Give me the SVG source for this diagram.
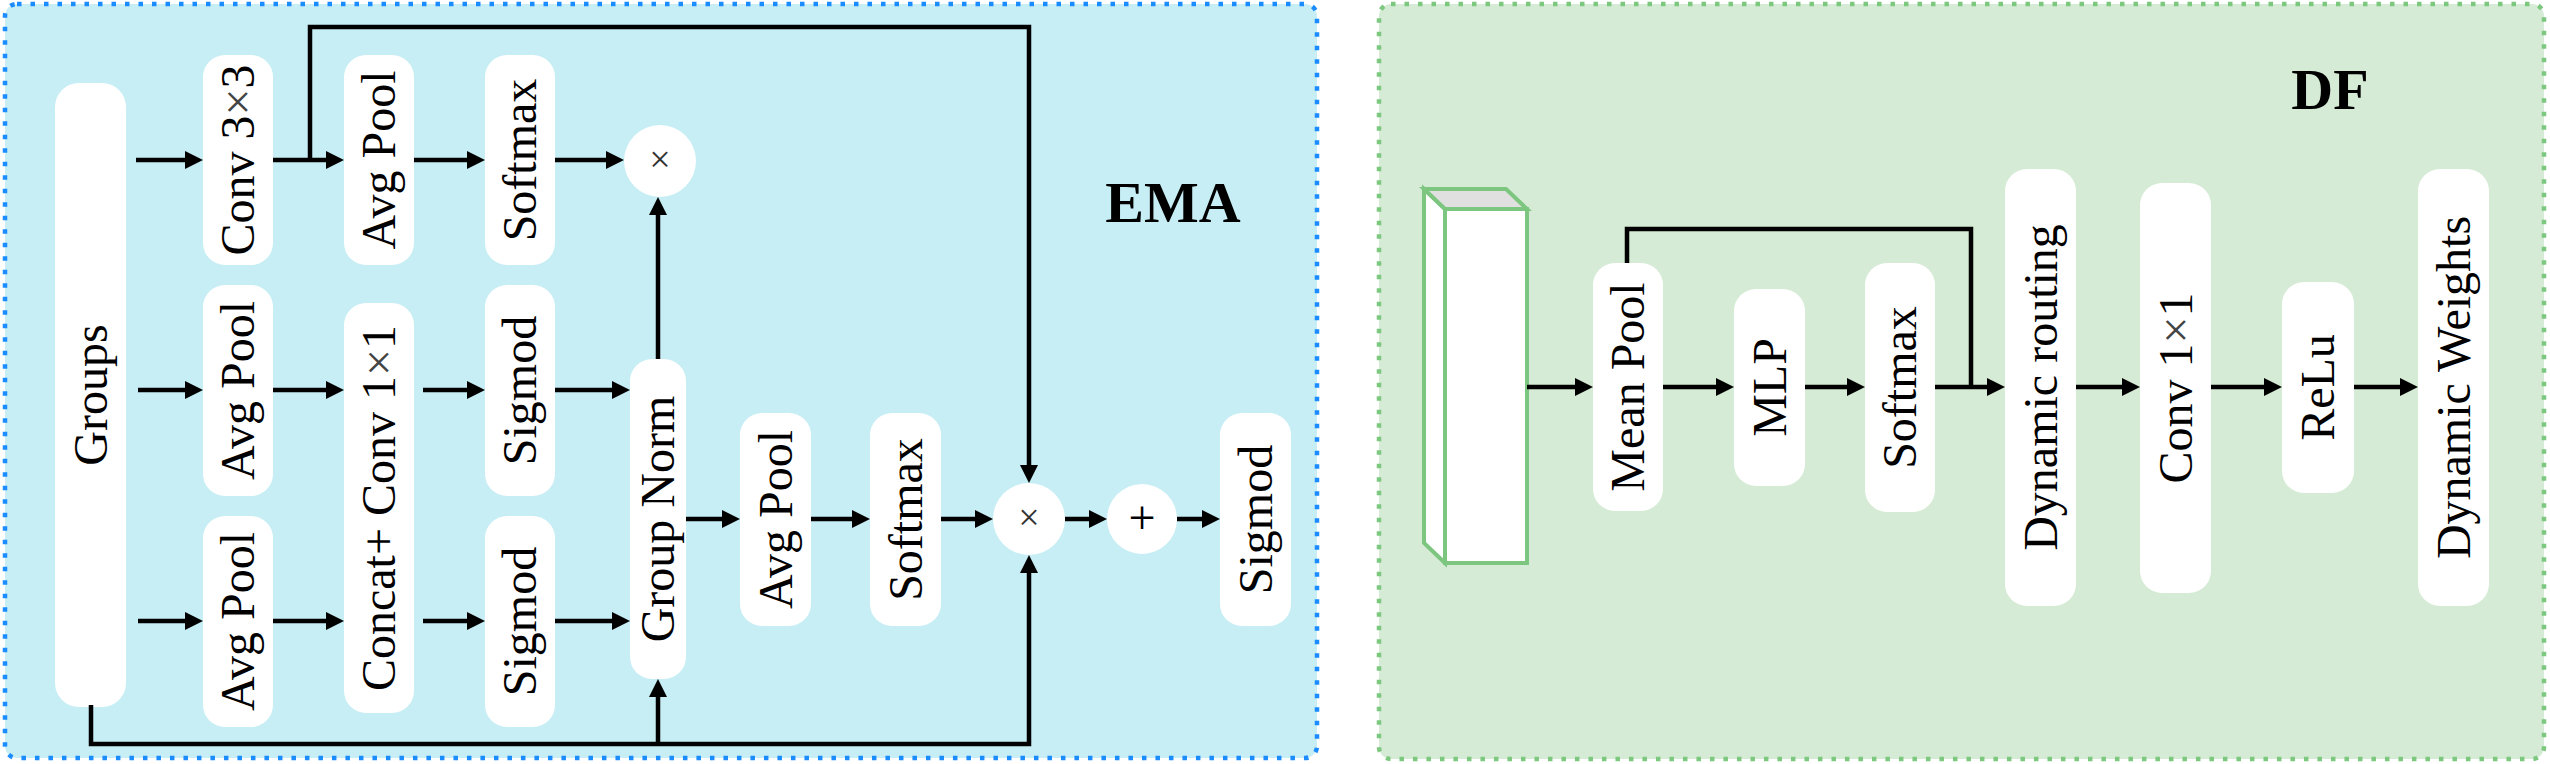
<svg xmlns="http://www.w3.org/2000/svg" width="2550" height="764" viewBox="0 0 2550 764">
<defs>
<marker id="ah" markerUnits="userSpaceOnUse" markerWidth="18" markerHeight="18" refX="8" refY="9" orient="auto">
<path d="M0,0 L18,9 L0,18 z" fill="#000"/>
</marker>
<style>
.panel-ema{fill:#c6eef4;stroke:#1a8cff;stroke-width:4.5;stroke-dasharray:4.5 9}
.panel-df{fill:#d5ebd5;stroke:#7dc87f;stroke-width:4.5;stroke-dasharray:4.5 9}
.box{fill:#fff;stroke:none}
.lbl{font-family:"Liberation Serif","Times New Roman",serif;font-size:48px;fill:#000;text-anchor:middle}
.op{font-family:"Liberation Serif","Times New Roman",serif;fill:#333;text-anchor:middle}
.title{font-family:"Liberation Serif","Times New Roman",serif;font-size:58px;font-weight:bold;fill:#000;text-anchor:middle}
.x{fill:#444}
.conn path{fill:none;stroke:#000;stroke-width:4.5}
.arr{marker-end:url(#ah)}
.cube{stroke:#7dc67f;stroke-width:4;stroke-linejoin:miter}
</style>
</defs>

<rect class="panel-ema" x="5" y="4" width="1312" height="754" rx="12"/>
<rect class="panel-df" x="1379" y="4" width="1165" height="755" rx="12"/>

<g id="ema-title"><text class="title" x="1173" y="222">EMA</text></g>
<g id="df-title"><text class="title" x="2330" y="109">DF</text></g>

<!-- EMA nodes -->
<g id="groups"><rect class="box" x="55" y="83" width="71" height="624" rx="24"/><text class="lbl" transform="translate(90.5,395) rotate(-90)" dy="16">Groups</text></g>
<g id="conv33"><rect class="box" x="203" y="55" width="70" height="210" rx="22"/><text class="lbl" transform="translate(238,160) rotate(-90)" dy="16">Conv 3<tspan class="x">×</tspan>3</text></g>
<g id="avgpool1"><rect class="box" x="344" y="55" width="70" height="210" rx="22"/><text class="lbl" transform="translate(379,160) rotate(-90)" dy="16">Avg Pool</text></g>
<g id="softmax1"><rect class="box" x="485" y="55" width="70" height="210" rx="22"/><text class="lbl" transform="translate(520,160) rotate(-90)" dy="16">Softmax</text></g>
<g id="mul1"><circle class="box" cx="660" cy="161" r="36"/><text class="op" x="660" y="172" font-size="38">×</text></g>
<g id="avgpool2"><rect class="box" x="203" y="285" width="70" height="211" rx="22"/><text class="lbl" transform="translate(238,390.5) rotate(-90)" dy="16">Avg Pool</text></g>
<g id="concat"><rect class="box" x="344" y="303" width="70" height="410" rx="22"/><text class="lbl" transform="translate(379,508) rotate(-90)" dy="16">Concat+ Conv 1<tspan class="x">×</tspan>1</text></g>
<g id="sigmod2"><rect class="box" x="485" y="285" width="70" height="211" rx="22"/><text class="lbl" transform="translate(520,390.5) rotate(-90)" dy="16">Sigmod</text></g>
<g id="avgpool3"><rect class="box" x="203" y="516" width="70" height="211" rx="22"/><text class="lbl" transform="translate(238,621.5) rotate(-90)" dy="16">Avg Pool</text></g>
<g id="sigmod3"><rect class="box" x="485" y="516" width="70" height="211" rx="22"/><text class="lbl" transform="translate(520,621.5) rotate(-90)" dy="16">Sigmod</text></g>
<g id="groupnorm"><rect class="box" x="630" y="359" width="56" height="320" rx="22"/><text class="lbl" transform="translate(658,519) rotate(-90)" dy="16">Group Norm</text></g>
<g id="avgpool4"><rect class="box" x="740" y="413" width="71" height="213" rx="22"/><text class="lbl" transform="translate(775.5,519.5) rotate(-90)" dy="16">Avg Pool</text></g>
<g id="softmax2"><rect class="box" x="870" y="413" width="71" height="213" rx="22"/><text class="lbl" transform="translate(905.5,519.5) rotate(-90)" dy="16">Softmax</text></g>
<g id="mul2"><circle class="box" cx="1029" cy="519" r="36"/><text class="op" x="1029" y="530" font-size="38">×</text></g>
<g id="add"><circle class="box" cx="1142" cy="519" r="35"/><text class="op" x="1142" y="534" font-size="48" style="fill:#000">+</text></g>
<g id="sigmod4"><rect class="box" x="1220" y="413" width="71" height="213" rx="22"/><text class="lbl" transform="translate(1255.5,519.5) rotate(-90)" dy="16">Sigmod</text></g>

<!-- DF nodes -->
<g id="input-tensor">
<polygon class="cube" points="1424,189 1445,209 1445,563 1424,543" fill="#fff"/>
<polygon class="cube" points="1424,189 1506,189 1527,209 1445,209" fill="#e0e0e0"/>
<rect class="cube" x="1445" y="209" width="82" height="354" fill="#fff"/>
</g>
<g id="meanpool"><rect class="box" x="1593" y="263" width="70" height="248" rx="22"/><text class="lbl" transform="translate(1628,387) rotate(-90)" dy="16">Mean Pool</text></g>
<g id="mlp"><rect class="box" x="1734" y="289" width="71" height="197" rx="22"/><text class="lbl" transform="translate(1769.5,387.5) rotate(-90)" dy="16">MLP</text></g>
<g id="softmax3"><rect class="box" x="1865" y="263" width="70" height="249" rx="22"/><text class="lbl" transform="translate(1900,387.5) rotate(-90)" dy="16">Softmax</text></g>
<g id="dynrouting"><rect class="box" x="2005" y="169" width="71" height="437" rx="22"/><text class="lbl" transform="translate(2040.5,387.5) rotate(-90)" dy="16">Dynamic routing</text></g>
<g id="conv11"><rect class="box" x="2140" y="183" width="71" height="410" rx="22"/><text class="lbl" transform="translate(2175.5,388) rotate(-90)" dy="16">Conv 1<tspan class="x">×</tspan>1</text></g>
<g id="relu"><rect class="box" x="2282" y="282" width="72" height="211" rx="22"/><text class="lbl" transform="translate(2318,387.5) rotate(-90)" dy="16">ReLu</text></g>
<g id="dynweights"><rect class="box" x="2418" y="169" width="71" height="437" rx="22"/><text class="lbl" transform="translate(2453.5,387.5) rotate(-90)" dy="16">Dynamic Weights</text></g>

<g id="connectors" class="conn">
<path class="arr" d="M136,160 H193"/>
<path class="arr" d="M273,160 H334"/>
<path class="arr" d="M414,160 H475"/>
<path class="arr" d="M555,160 H614"/>
<path class="arr" d="M138,390 H193"/>
<path class="arr" d="M273,390 H334"/>
<path class="arr" d="M423,390 H475"/>
<path class="arr" d="M555,390 H620"/>
<path class="arr" d="M138,621 H193"/>
<path class="arr" d="M273,621 H334"/>
<path class="arr" d="M423,621 H475"/>
<path class="arr" d="M555,621 H620"/>
<path class="arr" d="M658,359 V207"/>
<path class="arr" d="M310,160 V27 H1029 V473"/>
<path class="arr" d="M91,705 V744 H1029 V565"/>
<path class="arr" d="M658,744 V689"/>
<path class="arr" d="M686,519 H730"/>
<path class="arr" d="M811,519 H860"/>
<path class="arr" d="M941,519 H983"/>
<path class="arr" d="M1065,519 H1097"/>
<path class="arr" d="M1177,519 H1210"/>
<path class="arr" d="M1527,387 H1583"/>
<path class="arr" d="M1663,387 H1724"/>
<path class="arr" d="M1805,387 H1855"/>
<path class="arr" d="M1935,387 H1995"/>
<path d="M1627,263 V229 H1971 V387"/>
<path class="arr" d="M2076,387 H2130"/>
<path class="arr" d="M2211,387 H2272"/>
<path class="arr" d="M2354,387 H2408"/>
</g>
</svg>
